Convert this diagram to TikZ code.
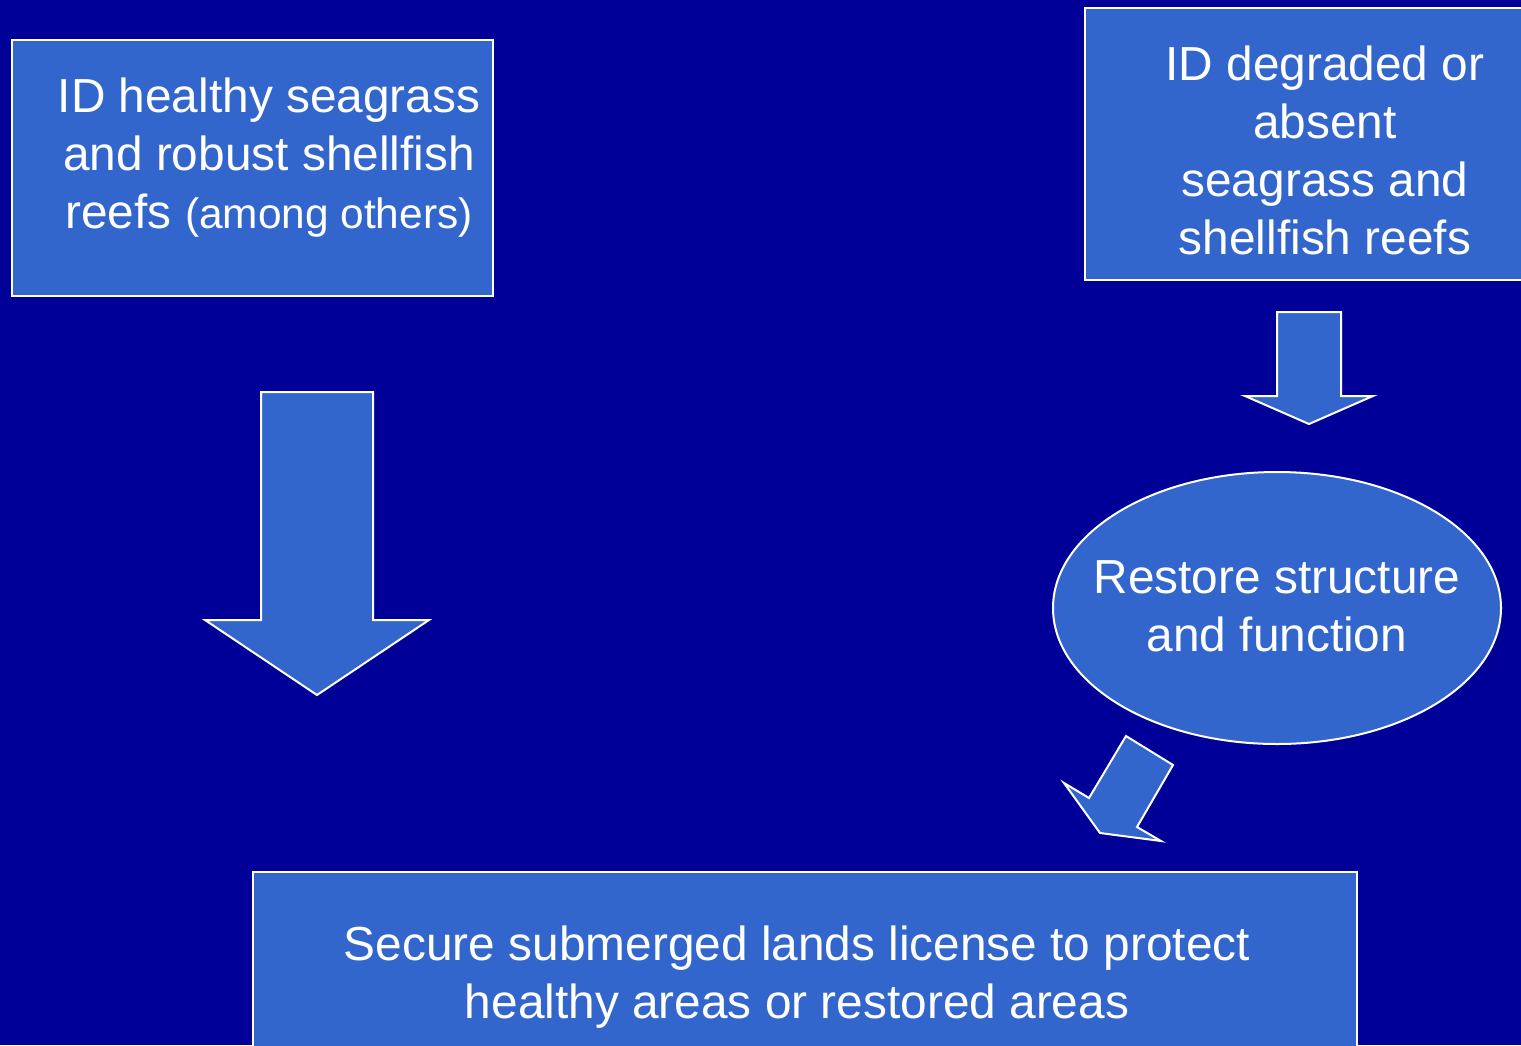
\documentclass[tikz,border=0pt]{standalone}
\usepackage{fontspec}
\setmainfont{Liberation Sans}
\usetikzlibrary{shapes.geometric}
\definecolor{bgblue}{HTML}{000099}
\definecolor{boxblue}{HTML}{3366CC}
\begin{document}
\begin{tikzpicture}[x=0.5pt,y=-0.5pt,
  shapebox/.style={draw=white, line width=1pt, fill=boxblue, inner sep=0pt},
  blockarrow/.style={draw=white, line width=1pt, fill=boxblue, line join=miter},
  txt/.style={text=white, font=\fontsize{23.9}{29}\selectfont, align=center, inner sep=0pt}]
\fill[bgblue] (0,0) rectangle (1521,1045);
\useasboundingbox (0,0) rectangle (1521,1045);
% boxes
\node[shapebox, rectangle, minimum width=240.5pt, minimum height=128pt] (box1) at (252.5,168) {};
\node[txt] (t1) at (269,158) {ID healthy seagrass\\and robust shellfish\\reefs {\fontsize{21.2}{29}\selectfont(among others)}};
\node[shapebox, rectangle, minimum width=222.5pt, minimum height=136pt] (box2) at (1307.5,144) {};
\node[txt] (t2) at (1325,150) {ID degraded or\\absent\\seagrass and\\shellfish reefs};
\node[shapebox, ellipse, minimum width=224pt, minimum height=136pt] (ell) at (1277,608) {};
\node[txt] (t3) at (1277,606) {Restore structure\\and function};
\node[shapebox, rectangle, minimum width=552pt, minimum height=99pt] (box3) at (805,971) {};
\node[txt] (t4) at (797,977) {Secure submerged lands license to protect\\healthy areas or restored areas};
% block arrows
\draw[blockarrow] (261,392)--(373,392)--(373,620)--(429,620)--(317,695)--(205,620)--(261,620)--cycle;
\draw[blockarrow] (1277,312)--(1341,312)--(1341,396)--(1373,396)--(1309,424)--(1245,396)--(1277,396)--cycle;
\draw[blockarrow] (1126,736)--(1173,765)--(1137,827)--(1161,841)--(1100,833)--(1064,783)--(1089,798)--cycle;
\end{tikzpicture}
\end{document}
